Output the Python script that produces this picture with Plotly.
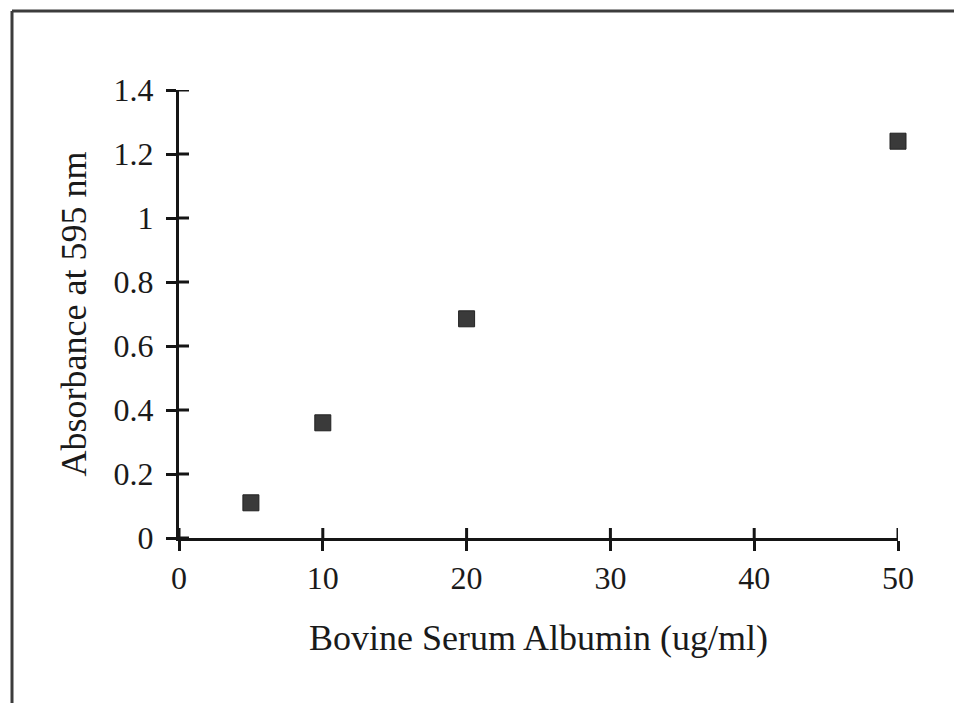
import plotly.graph_objects as go

bsa_conc = [5, 10, 20, 50]
absorbance = [0.11, 0.36, 0.685, 1.24]
x_ticks = [0, 10, 20, 30, 40, 50]
y_ticks = [0, 0.2, 0.4, 0.6, 0.8, 1, 1.2, 1.4]
y_tick_text = ["0", "0.2", "0.4", "0.6", "0.8", "1", "1.2", "1.4"]

W, H = 954, 703
L, R, T, B = 179, 56, 90, 165
pw, ph = W - L - R, H - T - B

fam = "Liberation Serif, DejaVu Serif, serif"
tick_font = dict(family=fam, size=32, color="#1a1a1a")
title_font = dict(family=fam, size=36, color="#1a1a1a")

fig = go.Figure()
fig.add_trace(go.Scatter(
    x=bsa_conc, y=absorbance, mode="markers", cliponaxis=False,
    marker=dict(symbol="square", size=16, color="#3a3a3a",
                line=dict(color="#222", width=1)),
    showlegend=False))

axis_common = dict(showgrid=False, zeroline=False, showline=True, linecolor="#151515",
                   linewidth=3, ticks="outside", ticklen=10, tickwidth=3, tickcolor="#151515",
                   tickfont=tick_font)

fig.update_layout(
    width=W, height=H, margin=dict(l=L, r=R, t=T, b=B),
    paper_bgcolor="white", plot_bgcolor="white", font=dict(family=fam, size=32),
    xaxis=dict(range=[0, 50], tickvals=x_ticks, ticktext=[str(v) for v in x_ticks],
               title=dict(text="Bovine Serum Albumin (ug/ml)", standoff=30, font=title_font),
               **axis_common),
    yaxis=dict(range=[0, 1.4], tickvals=y_ticks, ticktext=y_tick_text,
               ticklabelstandoff=6,
               title=dict(text="Absorbance at 595 nm", standoff=16, font=title_font),
               **axis_common),
)

# inner halves of the crossing tick marks
tick_line = dict(color="#151515", width=3)
for tv in x_ticks:
    fig.add_shape(type="line", xref="x", yref="y", x0=tv, x1=tv,
                  ysizemode="pixel", yanchor=0, y0=0, y1=10, line=tick_line)
for tv in y_ticks:
    fig.add_shape(type="line", xref="x", yref="y", y0=tv, y1=tv,
                  xsizemode="pixel", xanchor=0, x0=0, x1=10, line=tick_line)

def px_x(p):
    return (p - L) / pw

def px_y(p):
    return (H - B - p) / ph

frame = dict(color="#3c3c3c", width=3)
fig.add_shape(type="line", xref="paper", yref="paper",
              x0=px_x(12), x1=px_x(W + 5), y0=px_y(11), y1=px_y(11), line=frame)
fig.add_shape(type="line", xref="paper", yref="paper",
              x0=px_x(12), x1=px_x(12), y0=px_y(11), y1=px_y(H + 5), line=frame)

fig.write_html("out.html")
